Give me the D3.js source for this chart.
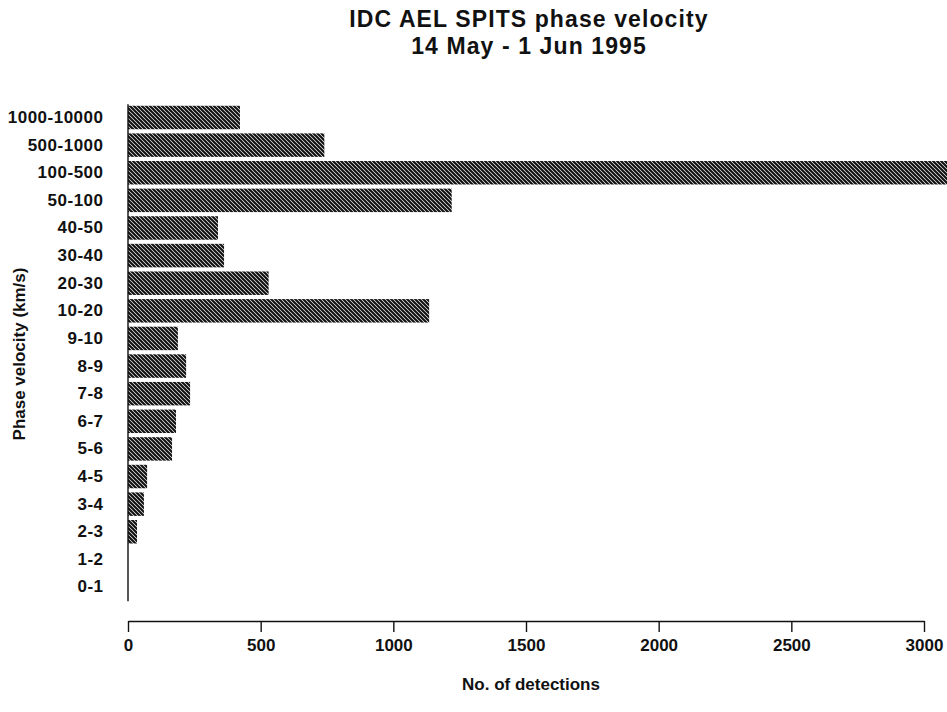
<!DOCTYPE html>
<html>
   <head>
      <title>IDC AEL SPITS phase velocity</title>
      <script src="https://d3js.org/d3.v7.min.js"></script>
      <style>
         body { margin: 0; background: white; }
         text { font-family: "Liberation Sans", Arial, Helvetica, sans-serif; fill: #111; }
         .axis path, .axis line { stroke: #111; stroke-width: 1.4; }
         .axis text { font-size: 17px; font-weight: bold; fill: #111; }
         .yaxis text { letter-spacing: 0.5px; }
      </style>
   </head>
   <body>
      <svg id="chart" width="947" height="712"></svg>
      <script>
         // phase velocity bins (km/s), top to bottom as in the plot
         const categories = ["1000-10000", "500-1000", "100-500", "50-100", "40-50", "30-40",
                             "20-30", "10-20", "9-10", "8-9", "7-8", "6-7", "5-6", "4-5",
                             "3-4", "2-3", "1-2", "0-1"];
         // number of detections per bin
         const detections = [422, 740, 3150, 1220, 339, 362, 530, 1135, 188, 219, 234,
                             181, 166, 72, 60, 34, 0, 0];
         const xTicks = [0, 500, 1000, 1500, 2000, 2500, 3000];

         var svg = d3.select("#chart");

         // hatch fill like the printed bars
         var defs = svg.append("defs");
         var pat = defs.append("pattern")
            .attr("id", "hatch")
            .attr("patternUnits", "userSpaceOnUse")
            .attr("width", 4)
            .attr("height", 4);
         pat.append("rect").attr("width", 4).attr("height", 4).attr("fill", "#fff");
         pat.append("path")
            .attr("d", "M0,0L4,4M-1,3L1,5M3,-1L5,1")
            .attr("stroke", "#111")
            .attr("stroke-width", 2.2);

         var xScale = d3.scaleLinear().domain([0, 3000]).range([128, 924]);
         var yScale = d3.scaleBand()
            .domain(categories)
            .range([103.7, 600.8])
            .paddingInner(0.15)
            .paddingOuter(0.075);

         // bars
         svg.append("g")
            .selectAll("rect")
            .data(categories)
            .enter()
            .append("rect")
            .attr("x", xScale(0))
            .attr("y", function(d) { return yScale(d); })
            .attr("width", function(d, i) { return xScale(detections[i]) - xScale(0); })
            .attr("height", yScale.bandwidth())
            .attr("fill", "url(#hatch)");

         // y axis (no ticks, just the line and labels)
         svg.append("g")
            .attr("class", "axis yaxis")
            .attr("transform", "translate(127.5,0)")
            .call(d3.axisLeft(yScale).tickSize(0).tickPadding(24));

         // x axis
         svg.append("g")
            .attr("class", "axis")
            .attr("transform", "translate(0,621)")
            .call(d3.axisBottom(xScale)
               .tickValues(xTicks)
               .tickFormat(d3.format("d"))
               .tickSize(11).tickSizeOuter(0).tickPadding(7));

         // Title
         svg.append("text")
            .attr("x", 529)
            .attr("y", 27)
            .attr("text-anchor", "middle")
            .style("font-size", "23px")
            .style("font-weight", "bold")
            .style("letter-spacing", "1.1px")
            .text("IDC AEL SPITS phase velocity");
         svg.append("text")
            .attr("x", 529)
            .attr("y", 54)
            .attr("text-anchor", "middle")
            .style("font-size", "23px")
            .style("font-weight", "bold")
            .style("letter-spacing", "1.1px")
            .text("14 May - 1 Jun 1995");

         // X label
         svg.append("text")
            .attr("x", 531)
            .attr("y", 690)
            .attr("text-anchor", "middle")
            .style("font-size", "17px")
            .style("font-weight", "bold")
            .text("No. of detections");

         // Y label
         svg.append("text")
            .attr("text-anchor", "middle")
            .attr("transform", "translate(25,354)rotate(-90)")
            .style("font-size", "17px")
            .style("font-weight", "bold")
            .text("Phase velocity (km/s)");
      </script>
   </body>
</html>
